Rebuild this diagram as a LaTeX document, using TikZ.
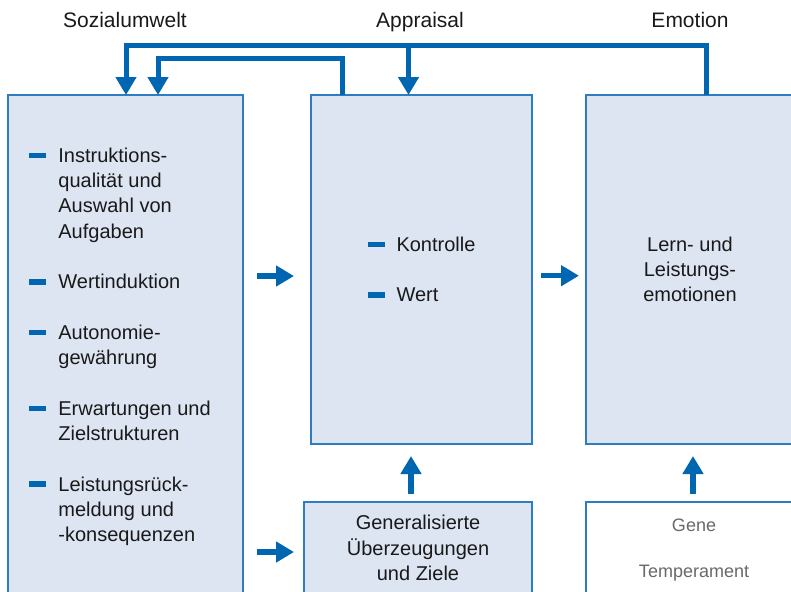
\documentclass[tikz,border=0pt]{standalone}
\usepackage{fontspec}
\setmainfont{Liberation Sans}
\usepackage{tikz}
\usetikzlibrary{arrows.meta, positioning}

\definecolor{pfeilblau}{RGB}{0,102,178}
\definecolor{rahmenblau}{RGB}{46,125,192}
\definecolor{kastenblau}{RGB}{222,229,242}
\definecolor{textgrau}{RGB}{105,105,105}

\newcommand{\strich}{\textcolor{pfeilblau}{\rule[2.1pt]{8.5pt}{2.8pt}}\hspace{6pt}}
\newcommand{\einzug}{\hspace*{14.5pt}}

\begin{document}
\begin{tikzpicture}[
    x=0.5pt, y=-0.5pt,
    box/.style={rectangle, draw=rahmenblau, line width=0.6pt, fill=kastenblau, inner sep=0pt, outer sep=0pt, text=black!90, font=\fontsize{10}{12.65}\selectfont, align=center},
    heading/.style={font=\fontsize{10.5}{12}\selectfont, text=black!90, anchor=base},
    liste/.style={font=\fontsize{10}{12.65}\selectfont, align=left, inner sep=0pt, text=black!90},
    pfeil/.style={line width=2.75pt, draw=pfeilblau, -{Triangle[width=10pt,length=9pt]}}
]
    \useasboundingbox (0,0) rectangle (791,591);
    \clip (0,0) rectangle (791,591);

    \node (hsoz) [heading] at (125,27) {Sozialumwelt};
    \node (happ) [heading] at (420,27) {Appraisal};
    \node (hemo) [heading] at (690,27) {Emotion};

    \node (soz) [box, anchor=north west, minimum width=117.5pt, minimum height=260pt] at (8,95) {};
    \node (app) [box, align=left, right=34pt of soz.north east, anchor=north west, minimum width=110.5pt, minimum height=174.5pt] {\strich Kontrolle\\[12.65pt]\strich Wert};
    \node (emo) [box, right=27pt of app.north east, anchor=north west, minimum width=104pt, minimum height=174.5pt] {Lern- und\\Leistungs-\\emotionen};
    \node (gen) [box, below=29pt of app.south west, anchor=north west, xshift=-3.5pt, minimum width=114pt, minimum height=46pt] {Generalisierte\\Überzeugungen\\und Ziele};
    \node (gene) [box, fill=white, text=textgrau, font=\fontsize{9}{11.5}\selectfont, inner ysep=8.25pt, minimum width=108pt, below=29pt of emo.south west, anchor=north west] {Gene\\[11.5pt]Temperament};

    \node (liste) [liste, anchor=north west] at (29,147.4) {\strich Instruktions-\\\einzug qualität und\\\einzug Auswahl von\\\einzug Aufgaben\\[12.65pt]
        \strich Wertinduktion\\[12.65pt]
        \strich Autonomie-\\\einzug gewährung\\[12.65pt]
        \strich Erwartungen und\\\einzug Zielstrukturen\\[12.65pt]
        \strich Leistungsrück-\\\einzug meldung und\\\einzug -konsequenzen};

    % Rueckwirkungen oben
    \coordinate (knick) at (408.5,45.5);
    \draw [pfeil, line width=2.5pt] ([xshift=60pt]emo.north west) -- ++(0,-49.5) -| ([xshift=59pt]soz.north west);
    \draw [pfeil, line width=2.5pt] (knick) -- (knick |- app.north);
    \draw [pfeil, line width=2.5pt] ([xshift=15.5pt]app.north west) -- ++(0,-36.5) -| ([xshift=75pt]soz.north west);

    \draw [pfeil, shorten <=7pt, shorten >=8.5pt] ([yshift=-3.25pt]app.west -| soz.east) -- ([yshift=-3.25pt]app.west);
    \draw [pfeil, shorten <=4.5pt, shorten >=3.5pt] ([yshift=-3.1pt]app.east) -- ([yshift=-3.1pt]emo.west);
    \draw [pfeil, shorten <=7pt, shorten >=5pt] ([yshift=-2pt]gen.west -| soz.east) -- ([yshift=-2pt]gen.west);
    \draw [pfeil, shorten <=4pt, shorten >=6pt] ([xshift=-3.5pt]gen.north) -- ([xshift=-3.5pt]gen.north |- app.south);
    \draw [pfeil, shorten <=4pt, shorten >=6pt] ([xshift=-0.5pt]gene.north) -- ([xshift=-0.5pt]gene.north |- emo.south);
\end{tikzpicture}
\end{document}
